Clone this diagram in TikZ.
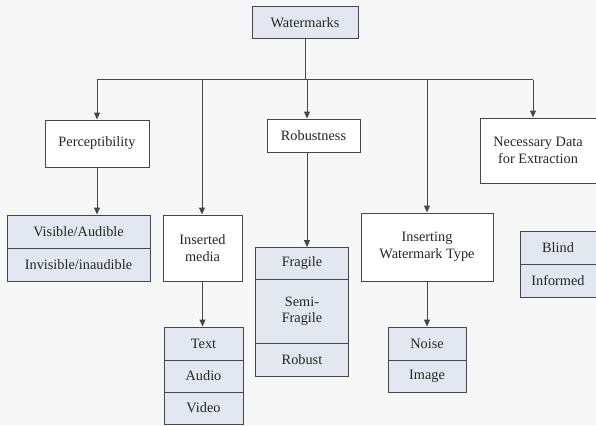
\documentclass[tikz,border=0pt]{standalone}
\usepackage{fontspec}
\setmainfont{Liberation Serif}
\usetikzlibrary{arrows.meta}
\definecolor{bg}{HTML}{F7F7F7}
\definecolor{cellfill}{HTML}{E3E8F0}
\definecolor{edge}{HTML}{474747}
\tikzset{
  px/.style={x=1pt,y=-1pt},
  box/.style={draw=edge, line width=1pt, fill=white, inner sep=1pt, align=center, font=\fontsize{14.3}{16.5}\selectfont, text=black!85},
  cell/.style={box, fill=cellfill},
  arr/.style={draw=edge, line width=1pt, -{Triangle[length=7pt,width=6pt]}},
  ln/.style={draw=edge, line width=1pt}
}
\begin{document}
\begin{tikzpicture}[px]
\fill[bg] (0,0) rectangle (596,425);
\useasboundingbox (0,0) rectangle (596,425);

\node[cell, minimum width=106pt, minimum height=32pt] (wm) at (305,23) {Watermarks};
\coordinate (bl) at (97,80);
\coordinate (br) at (533,80);
\coordinate (bm) at (305,80);

\node[box, minimum width=104pt, minimum height=47pt] (perc) at (97,143.5) {Perceptibility};
\node[box, minimum width=79pt, minimum height=66pt] (med) at (202.5,248) {Inserted\\media};
\node[box, minimum width=93pt, minimum height=33pt] (rob) at (313.5,135.5) {Robustness};
\node[box, minimum width=132pt, minimum height=68pt] (iwt) at (427,247) {Inserting\\Watermark Type};
\node[box, minimum width=116pt, minimum height=65pt] (nde) at (538,150.5) {Necessary Data\\for Extraction};

% lists
\node[cell, minimum width=143pt, minimum height=33pt] (vis) at (78.5,231.5) {Visible/Audible};
\node[cell, minimum width=143pt, minimum height=33pt] (inv) at (78.5,264.5) {Invisible/inaudible};

\node[cell, minimum width=79pt, minimum height=33pt] (txt) at (203.5,343.5) {Text};
\node[cell, minimum width=79pt, minimum height=32pt] (aud) at (203.5,376) {Audio};
\node[cell, minimum width=79pt, minimum height=32pt] (vid) at (203.5,408) {Video};

\node[cell, minimum width=93pt, minimum height=32pt] (fra) at (302,263.5) {Fragile};
\node[cell, minimum width=93pt, minimum height=64pt] (semi) at (302,311.5) {Semi-\\Fragile};
\node[cell, minimum width=93pt, minimum height=33pt] (robu) at (302,359.5) {Robust};

\node[cell, minimum width=78pt, minimum height=33pt] (noi) at (427,343.5) {Noise};
\node[cell, minimum width=78pt, minimum height=32pt] (img) at (427,376) {Image};

\node[cell, minimum width=76pt, minimum height=33pt] (bli) at (558,247.5) {Blind};
\node[cell, minimum width=76pt, minimum height=33pt] (inf) at (558,280.5) {Informed};

% connectors
\draw[ln] (wm.south) -- (bm);
\draw[ln] (bl) -- (br);
\draw[arr] (bl) -- (bl |- perc.north);
\draw[arr] (202,80) -- (202,0 |- med.north);
\draw[arr] (307,80) -- (307,0 |- rob.north);
\draw[arr] (427,80) -- (427,0 |- iwt.north);
\draw[arr] (br) -- (br |- nde.north);

\draw[arr] (perc.south) -- (perc.south |- vis.north);
\draw[arr] (med.south) -- (med.south |- txt.north);
\draw[arr] (307,0 |- rob.south) -- (307,0 |- fra.north);
\draw[arr] (iwt.south) -- (iwt.south |- noi.north);
\end{tikzpicture}
\end{document}
